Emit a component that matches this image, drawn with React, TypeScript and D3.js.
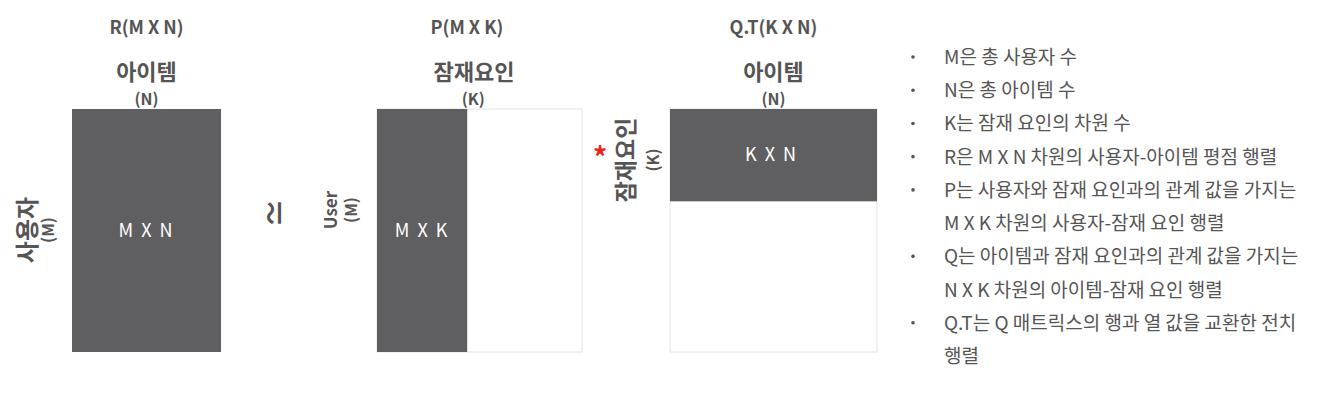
import React from "react";
import * as d3 from "d3";

const W = 1334;
const H = 401;
const FONT = "'Noto Sans CJK KR', 'Noto Sans', sans-serif";
const DARK = "#5f5f61";
const TXT = "#555";

// matrices: [title, top label, top dim, inner label]
const matrices = [
  { id: "R", title: "R(M X N)", top: "아이템", dim: "(N)", inner: "M X N" },
  { id: "P", title: "P(M X K)", top: "잠재요인", dim: "(K)", inner: "M X K" },
  { id: "Q", title: "Q.T(K X N)", top: "아이템", dim: "(N)", inner: "K X N" },
];

const bullets = [
  "M은 총 사용자 수",
  "N은 총 아이템 수",
  "K는 잠재 요인의 차원 수",
  "R은 M X N 차원의 사용자-아이템 평점 행렬",
  "P는 사용자와 잠재 요인과의 관계 값을 가지는",
  "M X K 차원의 사용자-잠재 요인 행렬",
  "Q는 아이템과 잠재 요인과의 관계 값을 가지는",
  "N X K 차원의 아이템-잠재 요인 행렬",
  "Q.T는 Q 매트릭스의 행과 열 값을 교환한 전치",
  "행렬",
];
const bulletStarts = [true, true, true, true, true, false, true, false, true, false];

export default function App() {
  const y = d3.scaleLinear().domain([0, 1]).range([109, 352]);
  const xs = {
    R: d3.scaleLinear().domain([0, 1]).range([72, 221]),
    P: d3.scaleLinear().domain([0, 1]).range([377, 582]),
    Q: d3.scaleLinear().domain([0, 1]).range([670, 877]),
  };
  const pK = 0.44; // K share of P width
  const qK = 0.38; // K share of Q height
  const by = d3.scalePoint<number>().domain(d3.range(bullets.length)).range([57, 356]);

  return (
    <svg width={W} height={H} style={{ position: "absolute", left: 0, top: 0, background: "#fff" }} fontFamily={FONT}>
      {matrices.map((m) => {
        const x = xs[m.id as "R" | "P" | "Q"];
        const cx = (x(0) + x(1)) / 2;
        return (
          <g key={m.id}>
            <text x={m.id === "P" ? 467 : cx} y={34} textAnchor="middle" fontSize={18} fontWeight="bold" fill={TXT}>{m.title}</text>
            <text x={m.id === "P" ? 474 : cx} y={80} textAnchor="middle" fontSize={22} fontWeight="bold" fill={TXT}>{m.top}</text>
            <text x={m.id === "P" ? x(pK) + 6 : cx} y={105} textAnchor="middle" fontSize={16} fontWeight="bold" fill={TXT}>{m.dim}</text>
          </g>
        );
      })}
      {/* R */}
      <rect x={xs.R(0)} y={y(0)} width={xs.R(1) - xs.R(0)} height={y(1) - y(0)} fill={DARK} />
      <text x={(xs.R(0) + xs.R(1)) / 2} y={(y(0) + y(1)) / 2 + 6} textAnchor="middle" fontSize={18} letterSpacing={2} fill="#fff">M X N</text>
      {/* P */}
      <rect x={xs.P(0)} y={y(0)} width={xs.P(1) - xs.P(0)} height={y(1) - y(0)} fill="#fff" stroke="#e4e4e4" />
      <rect x={xs.P(0)} y={y(0)} width={xs.P(pK) - xs.P(0)} height={y(1) - y(0)} fill={DARK} />
      <text x={(xs.P(0) + xs.P(pK)) / 2} y={(y(0) + y(1)) / 2 + 6} textAnchor="middle" fontSize={18} letterSpacing={2} fill="#fff">M X K</text>
      {/* Q */}
      <rect x={xs.Q(0)} y={y(0)} width={xs.Q(1) - xs.Q(0)} height={y(1) - y(0)} fill="#fff" stroke="#e4e4e4" />
      <rect x={xs.Q(0)} y={y(0)} width={xs.Q(1) - xs.Q(0)} height={y(qK) - y(0)} fill={DARK} />
      <text x={(xs.Q(0) + xs.Q(1)) / 2 - 2} y={161} textAnchor="middle" fontSize={18} letterSpacing={2} fill="#fff">K X N</text>

      {/* side labels */}
      <g transform="translate(36,230) rotate(-90)">
        <text textAnchor="middle" fontSize={24} fontWeight="bold" fill={TXT}>사용자</text>
      </g>
      <g transform="translate(54,230) rotate(-90)">
        <text textAnchor="middle" fontSize={16} fontWeight="bold" fill={TXT}>(M)</text>
      </g>
      <g transform="translate(286,213) rotate(-90)">
        <text textAnchor="middle" fontSize={30} fontWeight="bold" fill={TXT}>≃</text>
      </g>
      <g transform="translate(337,210) rotate(-90)">
        <text textAnchor="middle" fontSize={17} fontWeight="bold" fill={TXT}>User</text>
      </g>
      <g transform="translate(357,210) rotate(-90)">
        <text textAnchor="middle" fontSize={16} fontWeight="bold" fill={TXT}>(M)</text>
      </g>
      <text x={600} y={168} textAnchor="middle" fontSize={28} fontWeight="bold" fill="#e8231e">*</text>
      <g transform="translate(634,160) rotate(-90)">
        <text textAnchor="middle" fontSize={23} fontWeight="bold" fill={TXT}>잠재요인</text>
      </g>
      <g transform="translate(659,160) rotate(-90)">
        <text textAnchor="middle" fontSize={16} fontWeight="bold" fill={TXT}>(K)</text>
      </g>

      {/* bullets */}
      {bullets.map((b, i) => (
        <g key={i}>
          {bulletStarts[i] && <circle cx={913} cy={by(i)!} r={1.8} fill={TXT} />}
          <text x={944} y={by(i)! + 7} fontSize={19} fill={TXT}>{b}</text>
        </g>
      ))}
    </svg>
  );
}
